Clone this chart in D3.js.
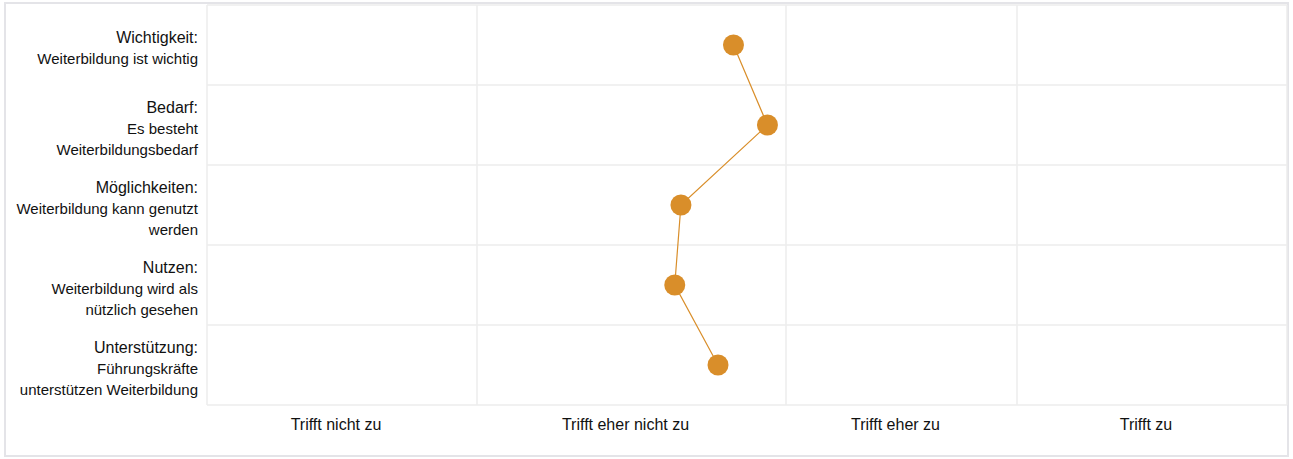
<!DOCTYPE html>
<html>
<head>
<meta charset="utf-8">
<script src="https://cdn.jsdelivr.net/npm/d3@7"></script>
<style>
  body { margin: 0; background: #fff; font-family: "Liberation Sans", Arial, sans-serif; }
</style>
</head>
<body>
<div id="chart-container"></div>
<script>
// Row titles and their sub lines (wrapped as in the original)
const categories = ["Wichtigkeit:", "Bedarf:", "Möglichkeiten:", "Nutzen:", "Unterstützung:"];
const subtitles = [
    ["Weiterbildung ist wichtig"],
    ["Es besteht", "Weiterbildungsbedarf"],
    ["Weiterbildung kann genutzt", "werden"],
    ["Weiterbildung wird als", "nützlich gesehen"],
    ["Führungskräfte", "unterstützen Weiterbildung"]
];
// Mean values on the 1..4 scale
const values = [2.33, 2.44, 2.16, 2.14, 2.28];
const scaleLabels = ["Trifft nicht zu", "Trifft eher nicht zu", "Trifft eher zu", "Trifft zu"];

// Layout
const svgWidth = 1293;
const svgHeight = 459;
const plotTop = 5, plotBottom = 405;
const colEdges = [207, 477, 786, 1017, 1287]; // columns are not equally wide
const dotColor = "#d98e2a";

const svg = d3.select("#chart-container").append("svg")
    .attr("width", svgWidth)
    .attr("height", svgHeight);

// outer frame
svg.append("rect")
    .attr("x", 5).attr("y", 3)
    .attr("width", 1283).attr("height", 453)
    .attr("fill", "none")
    .attr("stroke", "#e4e4e8")
    .attr("stroke-width", 2);

// x: each column covers one step of the scale, centred on 1,2,3,4
const x = d3.scaleLinear()
    .domain([0.5, 1.5, 2.5, 3.5, 4.5])
    .range(colEdges);

const y = d3.scaleBand()
    .domain(categories)
    .range([plotTop, plotBottom]);

const grid = svg.append("g").attr("stroke", "#ececec").attr("stroke-width", 1.5);

// horizontal row lines
grid.selectAll("line.h")
    .data(categories.concat(["_end"]))
    .join("line")
    .attr("class", "h")
    .attr("x1", colEdges[0])
    .attr("x2", colEdges[colEdges.length - 1])
    .attr("y1", d => d === "_end" ? plotBottom : y(d))
    .attr("y2", d => d === "_end" ? plotBottom : y(d));

// vertical column lines
grid.selectAll("line.v")
    .data(x.domain())
    .join("line")
    .attr("class", "v")
    .attr("x1", d => x(d)).attr("x2", d => x(d))
    .attr("y1", plotTop).attr("y2", plotBottom);

// x labels under each column
svg.append("g").selectAll("text")
    .data(scaleLabels)
    .join("text")
    .attr("x", (d, i) => x(i + 1) - 6)
    .attr("y", 424)
    .attr("text-anchor", "middle")
    .attr("dominant-baseline", "central")
    .style("font-size", "16px")
    .style("fill", "#111")
    .text(d => d);

// row labels, right aligned
const lineGap = 21;
const rowLabels = svg.append("g").selectAll("g")
    .data(categories)
    .join("g");

rowLabels.each(function(d, i) {
    const lines = [d].concat(subtitles[i]);
    const cy = y(d) + y.bandwidth() / 2 + 3;
    const y0 = cy - (lines.length - 1) / 2 * lineGap;
    d3.select(this).selectAll("text")
        .data(lines)
        .join("text")
        .attr("x", 198)
        .attr("y", (t, j) => y0 + j * lineGap)
        .attr("text-anchor", "end")
        .attr("dominant-baseline", "central")
        .style("font-size", (t, j) => j === 0 ? "16px" : "15px")
        .style("fill", "#111")
        .text(t => t);
});

// connecting line and dots
const line = d3.line()
    .x(d => x(d.value))
    .y(d => y(d.cat) + y.bandwidth() / 2);

const points = categories.map((c, i) => ({ cat: c, value: values[i] }));

svg.append("path")
    .datum(points)
    .attr("d", line)
    .attr("fill", "none")
    .attr("stroke", dotColor)
    .attr("stroke-width", 1.2);

svg.append("g").selectAll("circle")
    .data(points)
    .join("circle")
    .attr("cx", d => x(d.value))
    .attr("cy", d => y(d.cat) + y.bandwidth() / 2)
    .attr("r", 10.5)
    .attr("fill", dotColor);
</script>
</body>
</html>
